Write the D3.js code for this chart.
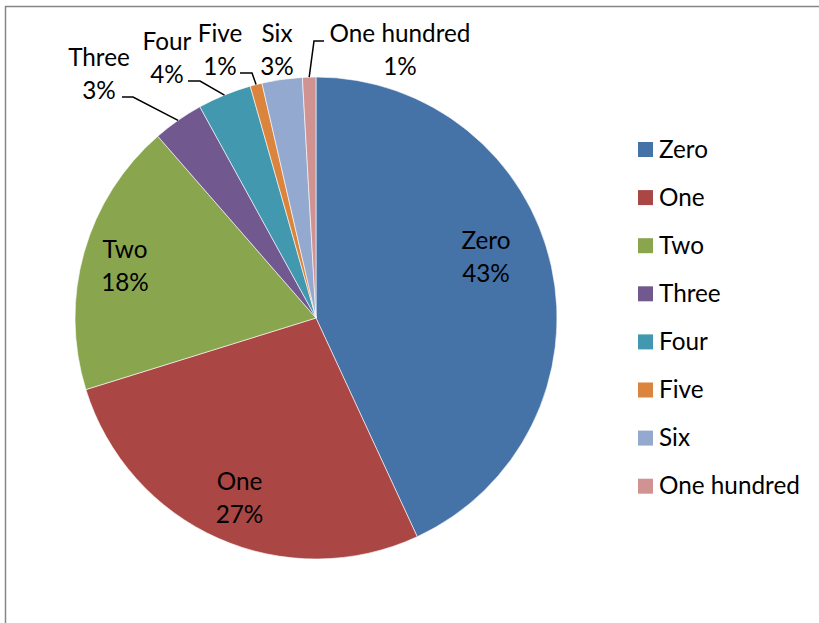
<!DOCTYPE html>
<html>
<head>
<meta charset="utf-8">
<script src="https://cdn.jsdelivr.net/npm/d3@7"></script>
<style>
  body { margin: 0; background: #fff; overflow: hidden; }
  svg { display: block; }
  text { font-family: Lato, "Noto Sans", sans-serif; fill: #000; }
</style>
</head>
<body>
<div id="chart"></div>
<script>
// data
var categories = ["Zero", "One", "Two", "Three", "Four", "Five", "Six", "One hundred"];
var values = [43.1, 27.1, 18.4, 3.4, 3.6, 0.8, 2.7, 0.9];
var colors = ["#4572A7", "#AA4643", "#89A54E", "#71588F", "#4198AF", "#DB843D", "#93A9CF", "#D19392"];

// label layout: x centre, first baseline, and an optional leader (elbow + end)
var labelLayout = [
    { x: 486, y: 249 },
    { x: 239.5, y: 490 },
    { x: 125, y: 258 },
    { x: 99, y: 66, elbow: [133, 97], end: [122, 97] },
    { x: 167, y: 50, elbow: [200, 81], end: [188, 81] },
    { x: 220, y: 42, elbow: [252, 73], end: [240, 73] },
    { x: 277, y: 42 },
    { x: 400, y: 42, elbow: [314, 41], end: [324, 41] }
];

var width = 819, height = 623;
var cx = 316, cy = 318, radius = 241;
var fontSize = 24.3, lineH = 32.5;

var svg = d3.select("#chart")
    .append("svg")
    .attr("width", width)
    .attr("height", height);

// chart area border: only the left and top edges fall inside the frame
svg.append("path")
    .attr("d", `M5.5,${height} V6.5 H${width}`)
    .attr("fill", "none")
    .attr("stroke", "#868686")
    .attr("stroke-width", 1.5);

var total = d3.sum(values);
var data = categories.map(function (c, i) { return { name: c, value: values[i], color: colors[i], layout: labelLayout[i] }; });

var pie = d3.pie()
    .value(function (d) { return d.value; })
    .sort(null);

var arc = d3.arc()
    .innerRadius(0)
    .outerRadius(radius);

var arcs = pie(data);

var g = svg.append("g")
    .attr("transform", `translate(${cx}, ${cy})`);

g.selectAll("path")
    .data(arcs)
    .join("path")
    .attr("d", arc)
    .attr("fill", function (d) { return d.data.color; })
    .attr("stroke", "#fff")
    .attr("stroke-width", 0.6);

// leader lines from the slice edge to the label
arcs.forEach(function (d) {
    var l = d.data.layout;
    if (!l.elbow) return;
    var mid = (d.startAngle + d.endAngle) / 2;
    var px = cx + radius * Math.sin(mid);
    var py = cy - radius * Math.cos(mid);
    svg.append("polyline")
        .attr("points", [[px, py], l.elbow, l.end].map(function (p) { return p.join(","); }).join(" "))
        .attr("fill", "none")
        .attr("stroke", "#000")
        .attr("stroke-width", 1.5);
});

var labels = svg.append("g");
arcs.forEach(function (d) {
    var l = d.data.layout;
    var t = labels.append("text")
        .attr("text-anchor", "middle")
        .style("font-size", fontSize + "px");
    t.append("tspan")
        .attr("x", l.x)
        .attr("y", l.y)
        .text(d.data.name);
    t.append("tspan")
        .attr("x", l.x)
        .attr("y", l.y + lineH)
        .text(Math.round(d.data.value / total * 100) + "%");
});

// legend
var legend = svg.append("g")
    .selectAll("g")
    .data(data)
    .join("g")
    .attr("transform", function (d, i) { return `translate(638, ${149.5 + i * 48.1})`; });

legend.append("rect")
    .attr("x", 0)
    .attr("y", -7.5)
    .attr("width", 15)
    .attr("height", 15)
    .attr("fill", function (d) { return d.color; });

legend.append("text")
    .attr("x", 21)
    .attr("y", 8)
    .style("font-size", fontSize + "px")
    .text(function (d) { return d.name; });
</script>
</body>
</html>
